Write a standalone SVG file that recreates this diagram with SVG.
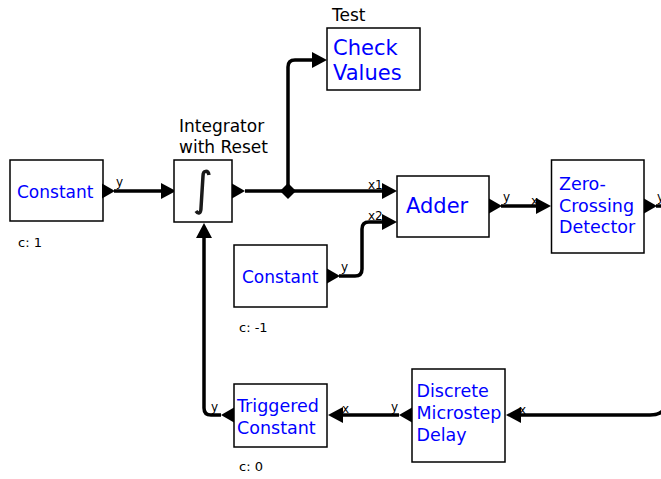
<svg xmlns="http://www.w3.org/2000/svg" width="661" height="479" viewBox="0 0 661 479">
<defs>
<style>
.box{fill:#fff;stroke:#000;stroke-width:1.5}
.nm{font-family:"DejaVu Sans",sans-serif;fill:#0000ff;font-size:17.5px}
.lbl{font-family:"DejaVu Sans",sans-serif;fill:#000;font-size:17px}
.par{font-family:"DejaVu Sans",sans-serif;fill:#000;font-size:13px}
.pl{font-family:"DejaVu Sans",sans-serif;fill:#000;font-size:12px}
.wire{fill:none;stroke:#000;stroke-width:3.5}
</style>
<marker id="ah" markerUnits="userSpaceOnUse" markerWidth="16" markerHeight="16" refX="1" refY="8" orient="auto" viewBox="0 0 16 16"><path d="M0,0 L15,8 L0,16 z" fill="#000"/></marker>
<path id="pr" d="M0,-7.5 L13,0 L0,7.5 z"/>
<path id="pL" d="M0,-7.5 L-13,0 L0,7.5 z"/>
</defs>
<rect width="661" height="479" fill="#fff"/>

<g id="connectors">
<path class="wire" d="M114,191 H162" marker-end="url(#ah)"/>
<path class="wire" d="M245,191 H383" marker-end="url(#ah)"/>
<path class="wire" d="M288,191 V67 Q288,60 295,60 H313" marker-end="url(#ah)"/>
<path class="wire" d="M501,206 H537" marker-end="url(#ah)"/>
<path class="wire" d="M339,276 H355 Q362,276 362,269 V229 Q362,222 369,222 H383" marker-end="url(#ah)"/>
<path class="wire" d="M656,206 H670"/>
<path class="wire" d="M668,396 Q668,415 650,415 H520" marker-end="url(#ah)"/>
<path class="wire" d="M399,415 H342" marker-end="url(#ah)"/>
<path class="wire" d="M221,415 H211 Q204,415 204,408 V237" marker-end="url(#ah)"/>
<path d="M288,183 L296,191 L288,199 L280,191 z" fill="#000"/>
<text class="pl" x="116" y="186">y</text>
<text class="pl" x="368" y="189">x1</text>
<text class="pl" x="368" y="220">x2</text>
<text class="pl" x="503" y="201">y</text>
<text class="pl" x="531" y="205">x</text>
<text class="pl" x="657" y="201">y</text>
<text class="pl" x="341" y="271">y</text>
<text class="pl" x="211" y="411">y</text>
<text class="pl" x="342" y="413">x</text>
<text class="pl" x="391" y="411">y</text>
<text class="pl" x="519" y="414">x</text>
</g>

<g id="constant1">
<rect class="box" x="10" y="160" width="93" height="61"/>
<text class="nm" x="17" y="198" style="font-size:17px">Constant</text>
<use href="#pr" transform="translate(102,191)"/>
<text class="par" x="18" y="247">c: 1</text>
</g>

<g id="integrator">
<text class="lbl" x="179" y="132">Integrator</text>
<text class="lbl" x="179" y="153">with Reset</text>
<rect class="box" x="174" y="160" width="58" height="62"/>
<path d="M209,175 C208,170 203,170 203,176 L201,208 C201,214 198,214 196,211" fill="none" stroke="#1a1a1a" stroke-width="3.5"/>
<use href="#pr" transform="translate(232,191)"/>
</g>

<g id="checkValues">
<text class="lbl" x="332" y="21">Test</text>
<rect class="box" x="327" y="28" width="93" height="62"/>
<text class="nm" x="333" y="55" style="font-size:21px">Check</text>
<text class="nm" x="333" y="80" style="font-size:21px">Values</text>
</g>

<g id="adder">
<rect class="box" x="397" y="176" width="92" height="61"/>
<text class="nm" x="406" y="213" style="font-size:21px">Adder</text>
<use href="#pr" transform="translate(489,206)"/>
</g>

<g id="zeroCrossing">
<rect class="box" x="551.5" y="160" width="92.5" height="93"/>
<text class="nm" x="559" y="190">Zero-</text>
<text class="nm" x="559" y="212">Crossing</text>
<text class="nm" x="559" y="233">Detector</text>
<use href="#pr" transform="translate(644,206)"/>
</g>

<g id="constant2">
<rect class="box" x="234" y="245" width="93" height="62"/>
<text class="nm" x="242" y="283" style="font-size:17px">Constant</text>
<use href="#pr" transform="translate(327,276)"/>
<text class="par" x="239" y="332">c: -1</text>
</g>

<g id="triggeredConstant">
<rect class="box" x="234" y="384" width="93" height="63"/>
<text class="nm" x="237" y="412">Triggered</text>
<text class="nm" x="237" y="433.5">Constant</text>
<use href="#pL" transform="translate(234,415)"/>
<text class="par" x="239" y="471">c: 0</text>
</g>

<g id="microstepDelay">
<rect class="box" x="412" y="369" width="93" height="93"/>
<text class="nm" x="416.5" y="397">Discrete</text>
<text class="nm" x="416.5" y="419">Microstep</text>
<text class="nm" x="416.5" y="441">Delay</text>
<use href="#pL" transform="translate(412,415)"/>
</g>
</svg>
